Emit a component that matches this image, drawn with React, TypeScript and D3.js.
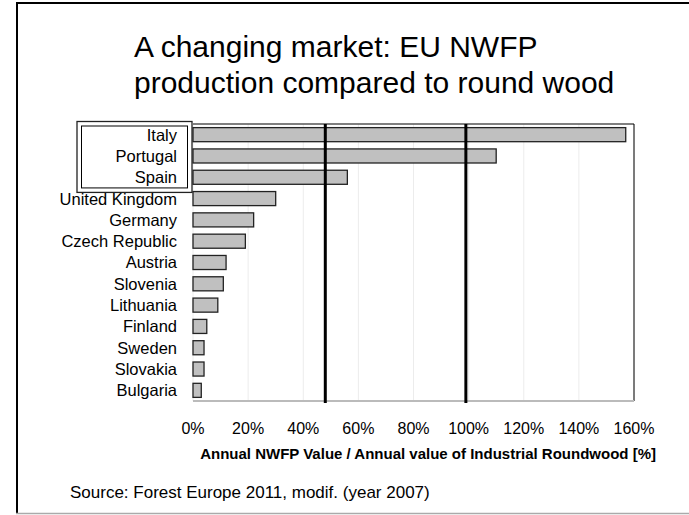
import * as React from 'react'
import * as d3 from 'd3'

// values (share of industrial roundwood value, %)
const countries = [
    'Italy', 'Portugal', 'Spain', 'United Kingdom', 'Germany', 'Czech Republic',
    'Austria', 'Slovenia', 'Lithuania', 'Finland', 'Sweden', 'Slovakia', 'Bulgaria',
]
const shares = [157, 110, 56, 30, 22, 19, 12, 11, 9, 5, 4, 4, 3]
const highlighted = ['Italy', 'Portugal', 'Spain']
const levelLines = [48, 99]
const xTicks = [0, 20, 40, 60, 80, 100, 120, 140, 160]

const titleLines = ['A changing market: EU NWFP', 'production compared to round wood']
const xTitle = 'Annual NWFP Value / Annual value of Industrial Roundwood [%]'
const source = 'Source: Forest Europe 2011, modif. (year 2007)'

const W = 689
const H = 515
const plot = { left: 193, right: 634, top: 124, bottom: 401 }
const font = '"Liberation Sans", Arial, Helvetica, sans-serif'

export default function App() {
    const x = d3.scaleLinear()
        .domain([0, 160])
        .range([plot.left, plot.right])

    const y = d3.scaleBand<string>()
        .domain(countries)
        .range([plot.top, plot.bottom])
        .paddingInner(0.34)
        .paddingOuter(0.17)

    const step = y.step()
    const bandTop = (c: string) => (y(c) as number) - y.paddingInner() * step / 2

    // double box round the leading labels
    const boxTop = bandTop(highlighted[0]) + 2
    const boxBottom = bandTop(highlighted[highlighted.length - 1]) + step
    const boxLeft = 81.5
    const boxRight = plot.left - 5.5

    return (
        <svg width={W} height={H} style={{ position: 'absolute', left: 0, top: 0, background: '#fff' }}
            fontFamily={font}>
            {/* slide frame */}
            <line x1={17} x2={17} y1={2} y2={514} stroke='#000' strokeWidth={2} />
            <line x1={16} x2={W} y1={3} y2={3} stroke='#000' strokeWidth={2} />
            <line x1={16} x2={W} y1={513.5} y2={513.5} stroke='#aaa' strokeWidth={1.5} />

            {/* title */}
            {titleLines.map((t, i) => (
                <text key={t} x={134} y={57 + i * 36} fontSize={30} fill='#000'>{t}</text>
            ))}

            {/* grid */}
            {xTicks.map(t => (
                <line key={t} x1={x(t)} x2={x(t)} y1={plot.top} y2={plot.bottom}
                    stroke='#ececec' strokeWidth={1} />
            ))}

            {/* plot frame */}
            <line x1={plot.left} x2={plot.right} y1={plot.top} y2={plot.top} stroke='#555' strokeWidth={1.5} />
            <line x1={plot.right} x2={plot.right} y1={plot.top} y2={plot.bottom} stroke='#000' strokeWidth={1} />
            <line x1={plot.left} x2={plot.right} y1={plot.bottom} y2={plot.bottom} stroke='#bbb' strokeWidth={2} />

            {/* bars */}
            {countries.map((c, i) => (
                <rect key={c} x={x(0)} y={y(c)} width={x(shares[i]) - x(0)} height={y.bandwidth()}
                    fill='#c0c0c0' stroke='#222' strokeWidth={1.3} />
            ))}

            {/* level lines */}
            {levelLines.map(v => (
                <line key={v} x1={x(v)} x2={x(v)} y1={plot.top} y2={plot.bottom + 2}
                    stroke='#000' strokeWidth={3} />
            ))}

            {/* category labels */}
            {countries.map(c => (
                <text key={c} x={plot.left - 16} y={(y(c) as number) + y.bandwidth() / 2}
                    dy='0.36em' textAnchor='end' fontSize={16.5} fill='#000'>{c}</text>
            ))}

            <rect x={boxLeft} y={boxTop} width={boxRight - boxLeft} height={boxBottom - boxTop}
                fill='none' stroke='#000' strokeWidth={1} />
            <rect x={boxLeft - 4.5} y={boxTop - 4.5} width={boxRight - boxLeft + 9} height={boxBottom - boxTop + 9}
                fill='none' stroke='#222' strokeWidth={1.3} />

            {/* x axis */}
            {xTicks.map(t => (
                <text key={t} x={x(t)} y={434} textAnchor='middle' fontSize={16} fill='#000'>
                    {d3.format('d')(t) + '%'}
                </text>
            ))}
            <text x={656} y={459} textAnchor='end' fontSize={15} fontWeight='bold' fill='#000'>{xTitle}</text>

            {/* source */}
            <text x={70} y={498} fontSize={17} fill='#000'>{source}</text>
        </svg>
    )
}
